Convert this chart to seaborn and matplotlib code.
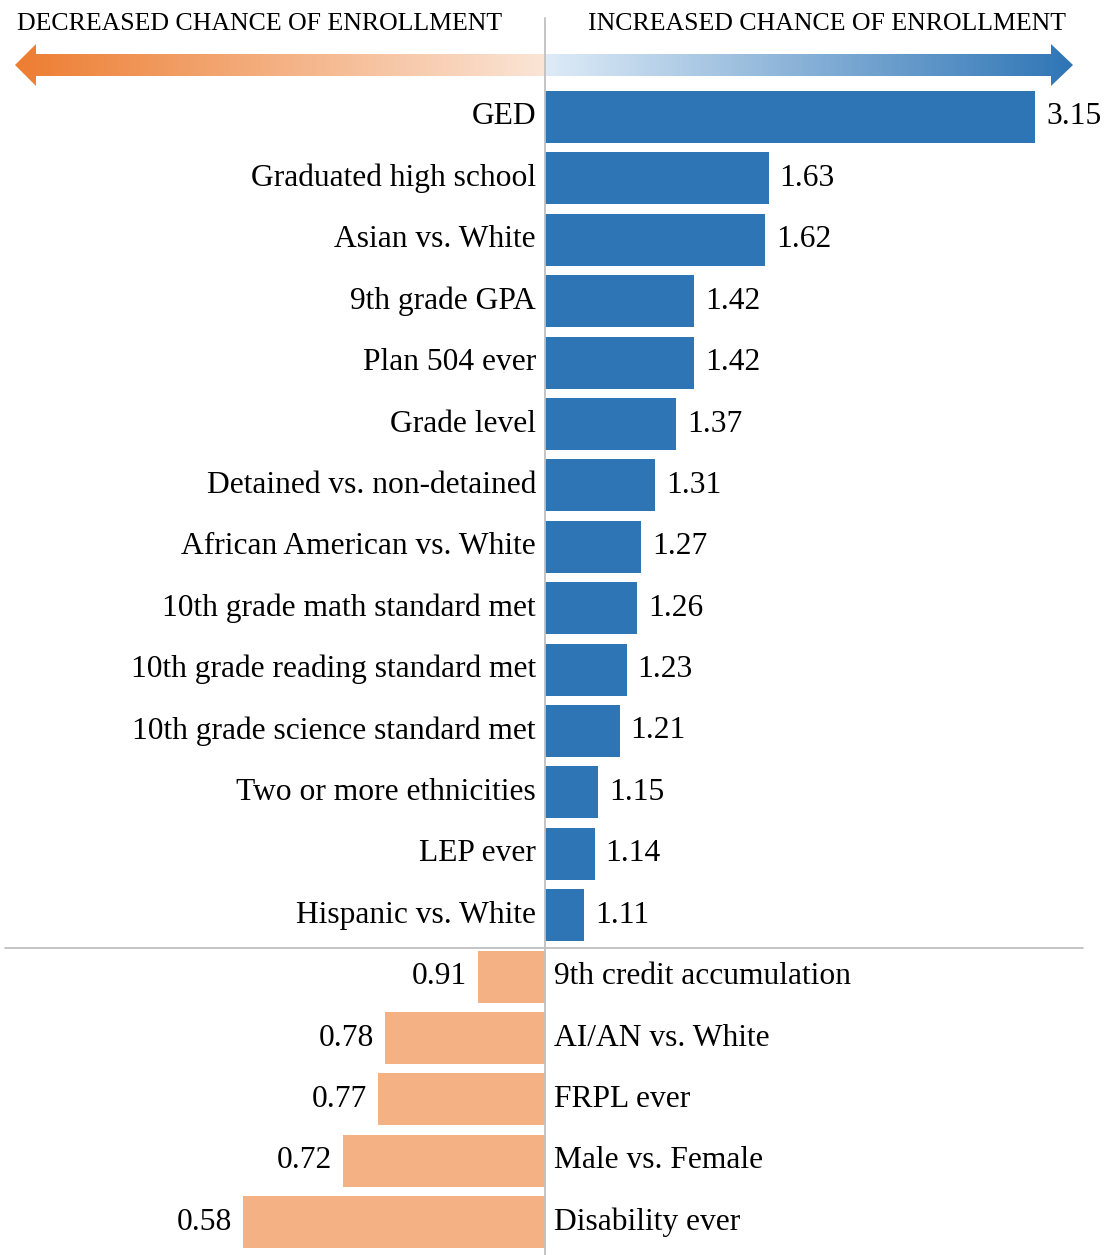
import numpy as np
import pandas as pd
import seaborn as sns
import matplotlib.pyplot as plt
from matplotlib.patches import Polygon
from matplotlib.colors import LinearSegmentedColormap

sns.set_style("white")
plt.rcParams['font.family'] = ['Liberation Serif', 'DejaVu Serif']
plt.rcParams['text.color'] = 'black'

# odds ratios
increase_labels = ["GED", "Graduated high school", "Asian vs. White", "9th grade GPA",
                   "Plan 504 ever", "Grade level", "Detained vs. non-detained",
                   "African American vs. White", "10th grade math standard met",
                   "10th grade reading standard met", "10th grade science standard met",
                   "Two or more ethnicities", "LEP ever", "Hispanic vs. White"]
increase_values = [3.15, 1.63, 1.62, 1.42, 1.42, 1.37, 1.31, 1.27, 1.26, 1.23, 1.21, 1.15, 1.14, 1.11]

decrease_labels = ["9th credit accumulation", "AI/AN vs. White", "FRPL ever",
                   "Male vs. Female", "Disability ever"]
decrease_values = [0.91, 0.78, 0.77, 0.72, 0.58]

header_left = "DECREASED CHANCE OF ENROLLMENT"
header_right = "INCREASED CHANCE OF ENROLLMENT"

BLUE = "#2E75B6"
ORANGE = "#F4B183"
GRID = "#BFBFBF"
AXIS_BREAK = 1.38   # GED bar is cut short in the original
FS = 22.7


def bar_length(v):
    """decreases are drawn at double scale to the left, increases to the right"""
    if v >= 1:
        return min(v - 1, AXIS_BREAK)
    return -2 * (1 - v) - 0.01


df = pd.DataFrame({
    'label': increase_labels + decrease_labels,
    'odds': increase_values + decrease_values,
    'group': ['up'] * len(increase_labels) + ['down'] * len(decrease_labels),
})
df['length'] = df['odds'].apply(bar_length)

W, H = 1105, 1255
fig = plt.figure(figsize=(W / 100, H / 100), dpi=100)

# main axes: full figure, 355 px per unit, centre line at x=545 px
px_per_unit = 355.0
row_px = 61.4
first_row_px = 117
ax = fig.add_axes([0, 0, 1, 1])
sns.barplot(data=df, x='length', y='label', hue='group', dodge=False,
            palette={'up': BLUE, 'down': ORANGE}, width=0.85, orient='h',
            legend=False, saturation=1, linewidth=0, ax=ax)
ax.set_xlim(-545 / px_per_unit, (W - 545) / px_per_unit)
ax.set_ylim(len(df) - 1 + (H - first_row_px - (len(df) - 1) * row_px) / row_px,
            -first_row_px / row_px)
ax.axis('off')

gap = 11 / px_per_unit
for i, row in df.iterrows():
    if row['group'] == 'up':
        ax.text(-9 / px_per_unit, i, row['label'], ha='right', va='center', fontsize=FS)
        ax.text(row['length'] + gap, i, f"{row['odds']:.2f}", ha='left', va='center', fontsize=FS)
    else:
        ax.text(9 / px_per_unit, i, row['label'], ha='left', va='center', fontsize=FS)
        ax.text(row['length'] - gap, i, f"{row['odds']:.2f}", ha='right', va='center', fontsize=FS)

# overlay axes in pixel units for the lines and arrows
ov = fig.add_axes([0, 0, 1, 1], zorder=3)
ov.set_xlim(0, W)
ov.set_ylim(H, 0)
ov.axis('off')
ov.patch.set_alpha(0)

ov.plot([545, 545], [18, H], color=GRID, lw=1.3)
ov.plot([5, 1083], [948, 948], color=GRID, lw=1.3)

ov.text(260, 24, header_left, ha='center', va='center', fontsize=18.6)
ov.text(827, 24, header_right, ha='center', va='center', fontsize=18.6)

cy, head_h, shaft_h = 65, 21, 11
left_poly = [(15, cy), (36, cy - head_h), (36, cy - shaft_h), (545, cy - shaft_h),
             (545, cy + shaft_h), (36, cy + shaft_h), (36, cy + head_h)]
right_poly = [(1073, cy), (1051, cy - head_h), (1051, cy - shaft_h), (546, cy - shaft_h),
              (546, cy + shaft_h), (1051, cy + shaft_h), (1051, cy + head_h)]

grad = np.linspace(0, 1, 256).reshape(1, -1)
cmap_left = LinearSegmentedColormap.from_list('l', ["#ED7D31", "#FBE5D6"])
cmap_right = LinearSegmentedColormap.from_list('r', ["#DEEBF7", BLUE])

for poly, cmap, x0, x1 in [(left_poly, cmap_left, 15, 545), (right_poly, cmap_right, 546, 1073)]:
    patch = Polygon(poly, closed=True, facecolor='none', edgecolor='none')
    ov.add_patch(patch)
    im = ov.imshow(grad, cmap=cmap, aspect='auto', extent=(x0, x1, cy + head_h, cy - head_h),
                   interpolation='bicubic')
    im.set_clip_path(patch)

ov.set_xlim(0, W)
ov.set_ylim(H, 0)

fig.savefig('out.png', dpi=100)
